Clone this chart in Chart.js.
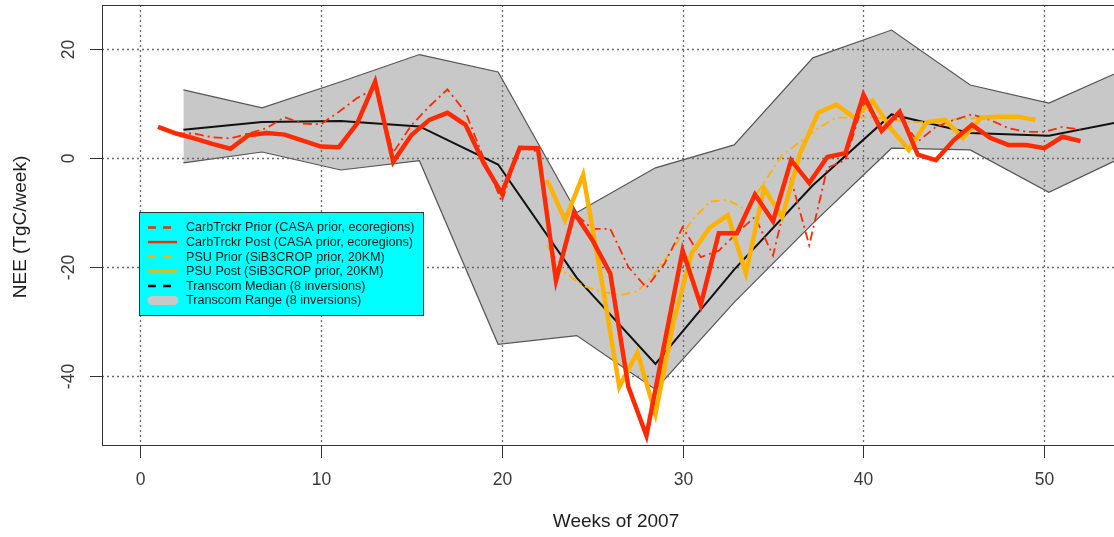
<!DOCTYPE html>
<html>
<head>
<meta charset="utf-8">
<script src="https://cdn.jsdelivr.net/npm/chart.js@4.4.0/dist/chart.umd.min.js"></script>
<style>
  html, body { margin: 0; padding: 0; background: #fff; }
  #wrap { width: 1114px; height: 537px; }
</style>
</head>
<body>
<div id="wrap"><canvas id="nee-chart"></canvas></div>
<script>
// ---------------- data ----------------
var weeks = [1, 2, 3, 4, 5, 6, 7, 8, 9, 10, 11, 12, 13, 14, 15, 16, 17, 18, 19, 20, 21, 22, 23, 24, 25, 26,
  27, 28, 29, 30, 31, 32, 33, 34, 35, 36, 37, 38, 39, 40, 41, 42, 43, 44, 45, 46, 47, 48, 49, 50, 51, 52];

var ctPrior = [5.7, 4.5, 4.5, 3.8, 3.6, 4.5, 5.5, 7.5, 6.3, 6.2, 8.5, 11, 12.8, 1, 6, 9.5, 12.6, 8.4, 0, -8,
  2, 1.2, -23, -10, -13, -13, -20, -23.8, -19.4, -12.7, -18.2, -17, -13.8, -10.8, -17.9, -4, -16, -1.8, -0.4, 10.3,
  5.5, 7.6, 3, 5.7, 7, 8, 7, 5.5, 4.8, 4.8, 5.7, 5.2];

var ctPost = [5.7, 4.5, 3.6, 2.6, 1.7, 4.2, 4.6, 4.3, 3.2, 2.1, 2, 6.3, 14, -0.7, 4.2, 7, 8.3, 6.1, -0.9, -6.5,
  1.9, 1.8, -22.5, -10, -15, -21.2, -42, -51, -34, -17, -27, -13.8, -13.8, -6.7, -11.6, -0.4, -4.6, 0.2, 0.9, 11.6,
  5, 8.5, 0.6, -0.4, 3.3, 6.1, 3.7, 2.4, 2.4, 1.8, 3.9, 3.1];

var psuWeeks = [22.5, 23.5, 24.5, 25.5, 26.5, 27.5, 28.5, 29.5, 30.5, 31.5, 32.5, 33.5, 34.5, 35.5,
  36.5, 37.5, 38.5, 39.5, 40.5, 41.5, 42.5, 43.5, 44.5, 45.5, 46.5, 47.5, 48.5, 49.5];

var psuPrior = [-16, -21, -23.5, -24.5, -25.2, -24.5, -21, -16.5, -11.5, -8, -7.7, -9.5, -4.5, 0.5,
  3, 5.5, 7.4, 7.4, 7.5, 7, 6.6, 6.6, 7, 7.2, 7.4, 7.5, 7.5, 7.3];

var psuPost = [-4, -11.4, -3.1, -22, -42, -35.7, -47, -30, -17.5, -12.8, -10.5, -21.2, -5.5, -10.9,
  0.9, 8.3, 9.8, 7.4, 10.5, 5.5, 1.5, 6.6, 7, 3.7, 7.4, 7.6, 7.6, 7];

var monthWeeks = [2.4, 6.75, 11.1, 15.45, 19.8, 24.15, 28.5, 32.85, 37.2, 41.55, 45.9, 50.25, 54.6];
var tcMedian = [5.2, 6.6, 6.8, 5.8, -1.2, -22, -37.8, -20.5, -5, 8, 4.6, 4.1, 6.9];
var tcMax = [12.5, 9.2, 14, 19, 15.8, -10, -1.8, 2.4, 18.4, 23.5, 13.4, 10.1, 16.5];
var tcMin = [-0.9, 1.1, -2.2, -0.5, -34.2, -32.6, -42.5, -26.5, -12, 1.8, 1.5, -6.3, 0.6];

var xTicks = [0, 10, 20, 30, 40, 50];
var yTicks = [-40, -20, 0, 20];

var legendLabels = [
  'CarbTrckr Prior (CASA prior, ecoregions)',
  'CarbTrckr Post (CASA prior, ecoregions)',
  'PSU Prior (SiB3CROP prior, 20KM)',
  'PSU Post (SiB3CROP prior, 20KM)',
  'Transcom Median (8 inversions)',
  'Transcom Range (8 inversions)'
];

function pts(xs, ys) {
  return xs.map(function (x, i) { return { x: x, y: ys[i] }; });
}

var RED = '#ff2a00';
var GOLD = '#ffb300';
var FONT = '"Liberation Sans", Arial, Helvetica, sans-serif';

// ---------------- R-style axes, grid, legend ----------------
var rStyle = {
  id: 'rStyle',
  afterDatasetDraw: function (chart, args) {
    if (args.index !== 5) return;   // grid goes on top of the grey range
    var ctx = chart.ctx, a = chart.chartArea;
    var xs = chart.scales.x, ys = chart.scales.y;
    ctx.save();
    ctx.strokeStyle = '#6a6a6a';
    ctx.lineWidth = 1.3;
    ctx.setLineDash([2, 3]);
    xTicks.forEach(function (v) {
      var px = Math.round(xs.getPixelForValue(v)) + 0.5;
      ctx.beginPath(); ctx.moveTo(px, a.top); ctx.lineTo(px, a.bottom); ctx.stroke();
    });
    yTicks.forEach(function (v) {
      var py = Math.round(ys.getPixelForValue(v)) + 0.5;
      ctx.beginPath(); ctx.moveTo(a.left, py); ctx.lineTo(a.right, py); ctx.stroke();
    });
    ctx.restore();
  },
  afterDraw: function (chart) {
    var ctx = chart.ctx, a = chart.chartArea;
    var xs = chart.scales.x, ys = chart.scales.y;
    ctx.save();
    // box
    ctx.strokeStyle = '#333';
    ctx.lineWidth = 1;
    ctx.strokeRect(a.left + 0.5, a.top + 0.5, a.right - a.left + 4, a.bottom - a.top);

    // tick marks + labels
    ctx.fillStyle = '#3a3a3a';
    ctx.font = '17.5px ' + FONT;
    ctx.textAlign = 'center';
    ctx.textBaseline = 'middle';
    xTicks.forEach(function (v) {
      var px = Math.round(xs.getPixelForValue(v)) + 0.5;
      ctx.beginPath(); ctx.moveTo(px, a.bottom); ctx.lineTo(px, a.bottom + 13); ctx.stroke();
      ctx.fillText(String(v), px, a.bottom + 35);
    });
    yTicks.forEach(function (v) {
      var py = Math.round(ys.getPixelForValue(v)) + 0.5;
      ctx.beginPath(); ctx.moveTo(a.left - 12, py); ctx.lineTo(a.left, py); ctx.stroke();
      ctx.save();
      ctx.translate(a.left - 33, py);
      ctx.rotate(-Math.PI / 2);
      ctx.fillText(String(v), 0, 0);
      ctx.restore();
    });

    // axis titles
    ctx.font = '19px ' + FONT;
    ctx.fillStyle = '#1e1e1e';
    ctx.fillText('Weeks of 2007', 616, 522);
    ctx.save();
    ctx.translate(21, 227);
    ctx.rotate(-Math.PI / 2);
    ctx.fillText('NEE (TgC/week)', 0, 0);
    ctx.restore();

    // legend
    var lx = 139, ly = 212, lw = 284, lh = 103;
    ctx.fillStyle = '#00ffff';
    ctx.fillRect(lx, ly, lw, lh);
    ctx.strokeStyle = '#333';
    ctx.strokeRect(lx + 0.5, ly + 0.5, lw, lh);
    var styles = [
      { c: RED, dash: [8, 7], w: 2.5 },
      { c: RED, dash: [], w: 2.5 },
      { c: GOLD, dash: [8, 7], w: 2.5 },
      { c: GOLD, dash: [], w: 2.5 },
      { c: '#000', dash: [8, 7], w: 2.5 },
      { c: '#c8c8c8', dash: [], w: 9, cap: 'round' }
    ];
    ctx.font = '12.6px ' + FONT;
    ctx.textAlign = 'left';
    legendLabels.forEach(function (label, i) {
      var ry = ly + 15.5 + i * 14.6;
      var s = styles[i];
      ctx.save();
      ctx.strokeStyle = s.c;
      ctx.lineWidth = s.w;
      ctx.lineCap = s.cap || 'butt';
      ctx.setLineDash(s.dash);
      ctx.beginPath();
      ctx.moveTo(lx + (s.cap ? 13 : 9), ry);
      ctx.lineTo(lx + (s.cap ? 35 : 38), ry);
      ctx.stroke();
      ctx.restore();
      ctx.fillStyle = '#1a1a1a';
      ctx.fillText(label, lx + 47, ry + 0.5);
    });
    ctx.restore();
  }
};

// ---------------- chart ----------------
var options = {
  responsive: true,
  maintainAspectRatio: false,
  animation: false,
  layout: { padding: { top: 5, right: 0, left: 0, bottom: 0 } },
  plugins: {
    legend: { display: false },
    tooltip: { enabled: false }
  },
  elements: {
    point: { radius: 0, hoverRadius: 0 },
    line: { tension: 0, fill: false }
  },
  scales: {
    x: {
      type: 'linear',
      min: -2.1,
      max: 53.85,
      ticks: { display: false },
      grid: { display: false },
      border: { display: false },
      afterFit: function (s) { s.height = 92; }
    },
    y: {
      min: -52.7,
      max: 28.1,
      ticks: { display: false },
      grid: { display: false },
      border: { display: false },
      afterFit: function (s) { s.width = 102; }
    }
  }
};

var chart = new Chart(document.getElementById('nee-chart'), {
  type: 'line',
  data: {
    datasets: [
      { label: legendLabels[1], data: pts(weeks, ctPost), borderColor: RED, borderWidth: 4.5, borderJoinStyle: 'miter' },
      { label: legendLabels[3], data: pts(psuWeeks, psuPost), borderColor: GOLD, borderWidth: 4.5, borderJoinStyle: 'miter' },
      { label: legendLabels[0], data: pts(weeks, ctPrior), borderColor: RED, borderWidth: 1.8, borderDash: [9, 4, 2, 4] },
      { label: legendLabels[2], data: pts(psuWeeks, psuPrior), borderColor: GOLD, borderWidth: 1.8, borderDash: [9, 4, 2, 4] },
      { label: legendLabels[4], data: pts(monthWeeks, tcMedian), borderColor: '#111', borderWidth: 2 },
      { label: 'Transcom max', data: pts(monthWeeks, tcMax), borderColor: '#555', borderWidth: 1.2 },
      { label: legendLabels[5], data: pts(monthWeeks, tcMin), borderColor: '#555', borderWidth: 1.2,
        fill: '-1', backgroundColor: '#c8c8c8' }
    ]
  },
  options: options,
  plugins: [rStyle]
});
</script>
</body>
</html>
